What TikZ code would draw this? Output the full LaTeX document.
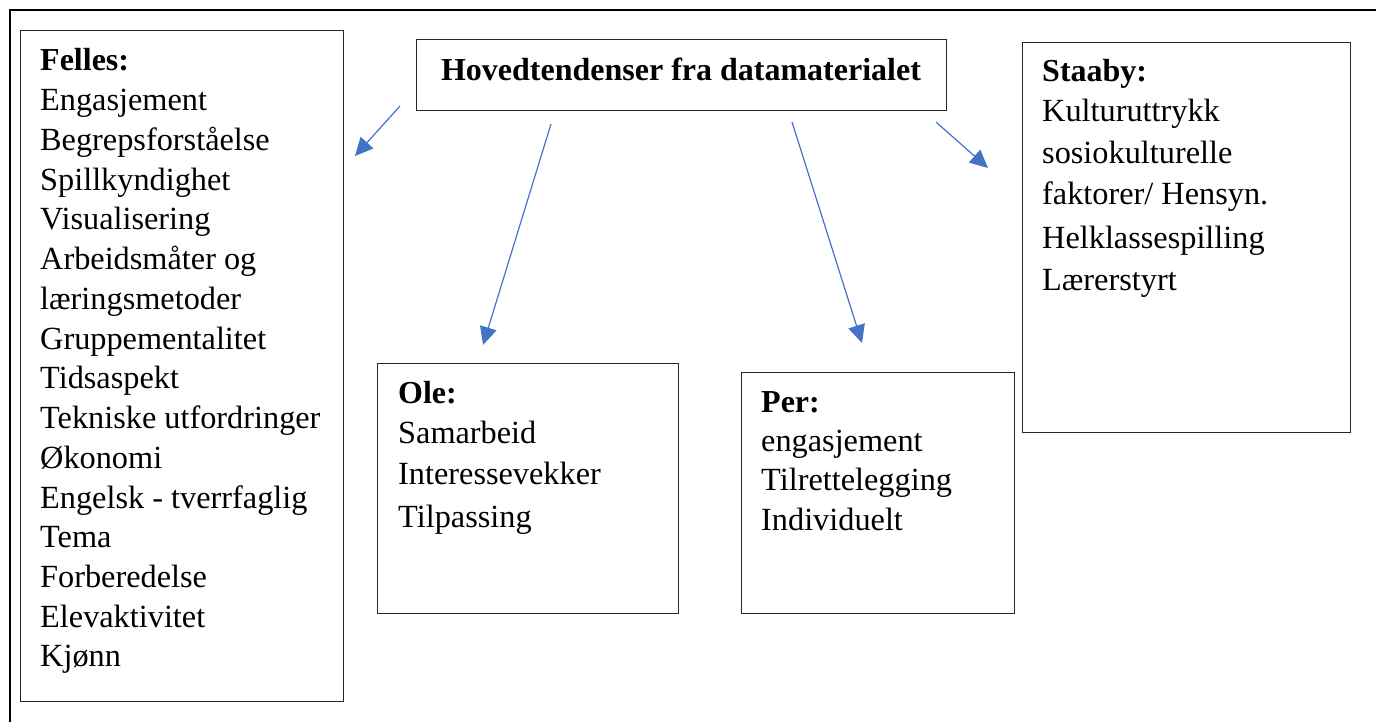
\documentclass[tikz,border=0pt]{standalone}
\usepackage{fontspec}
\setmainfont{Liberation Serif}
\usetikzlibrary{arrows.meta}
\definecolor{arrowblue}{HTML}{4472C4}
\begin{document}
\begin{tikzpicture}[x=1pt,y=-1pt,
  box/.style={draw=black!85,line width=0.9pt,inner sep=0,anchor=north west},
  txt/.style={anchor=base west,inner sep=0,font=\fontsize{32.3}{40}\selectfont},
  hd/.style={txt,font=\fontsize{32}{40}\selectfont\bfseries},
  conn/.style={draw=arrowblue,line width=1.2pt,-{Triangle[length=18pt,width=17pt]}}]
\useasboundingbox (0,0) rectangle (1376,722);
\draw[line width=2pt] (1376,10) -- (10,10) -- (10,722);
% boxes
\node[box,minimum width=323pt,minimum height=671pt] (felles) at (20,30) {};
\node[box,minimum width=530pt,minimum height=71pt] (title) at (416,39) {};
\node[box,minimum width=328pt,minimum height=390pt] (staaby) at (1022,42) {};
\node[box,minimum width=301pt,minimum height=250pt] (ole) at (377,363) {};
\node[box,minimum width=273pt,minimum height=241pt] (per) at (741,372) {};
% title
\node[hd,anchor=base] (titletxt) at (681,81) {Hovedtendenser fra datamaterialet};
% Felles
\node[hd] (fh) at (40,71) {Felles:};
\foreach \t [count=\i] in {Engasjement,Begrepsforståelse,Spillkyndighet,Visualisering,Arbeidsmåter og,læringsmetoder,Gruppementalitet,Tidsaspekt,Tekniske utfordringer,Økonomi,Engelsk - tverrfaglig,Tema,Forberedelse,Elevaktivitet,Kjønn}
  \node[txt] (f\i) at (40,{71+39.73*\i}) {\t};
% Staaby
\node[hd] (sh) at (1042,82) {Staaby:};
\node[txt] (s1) at (1042,122) {Kulturuttrykk};
\node[txt] (s2) at (1042,164) {sosiokulturelle};
\node[txt] (s3) at (1042,205) {faktorer/ Hensyn.};
\node[txt] (s4) at (1042,248) {Helklassespilling};
\node[txt] (s5) at (1042,290) {Lærerstyrt};
% Ole
\node[hd] (oh) at (398,403) {Ole:};
\node[txt] (o1) at (398,443) {Samarbeid};
\node[txt] (o2) at (398,484) {Interessevekker};
\node[txt] (o3) at (398,527) {Tilpassing};
% Per
\node[hd] (ph) at (761,412) {Per:};
\node[txt] (p1) at (761,451) {engasjement};
\node[txt] (p2) at (761,490) {Tilrettelegging};
\node[txt] (p3) at (761,530) {Individuelt};
% arrows
\coordinate (a1s) at (400,106); \coordinate (a1e) at (355,156);
\coordinate (a2s) at (551,124); \coordinate (a2e) at (483,345);
\coordinate (a3s) at (792,122); \coordinate (a3e) at (862,343);
\coordinate (a4s) at (936,122); \coordinate (a4e) at (988,168);
\draw[conn] (a1s) -- (a1e);
\draw[conn] (a2s) -- (a2e);
\draw[conn] (a3s) -- (a3e);
\draw[conn] (a4s) -- (a4e);
\end{tikzpicture}
\end{document}
